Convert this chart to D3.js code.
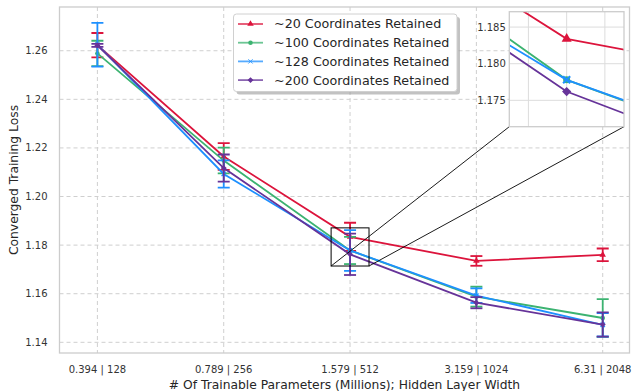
<!DOCTYPE html>
<meta charset="utf-8" />
<title>Converged Training Loss</title>
<script src="https://d3js.org/d3.v7.min.js"></script>

<style>
  body {
    margin: 0;
    padding: 0;
    background: #fff;
    font-family: "DejaVu Sans", sans-serif;
  }

  .grid line {
    stroke: #cfcfcf;
    stroke-width: 1;
    stroke-dasharray: 4, 3;
  }

  .tick-label {
    font-size: 10px;
    fill: #333;
  }

  .axis-label {
    font-size: 12.3px;
    fill: #262626;
  }

  .series-line {
    fill: none;
    stroke-width: 1.8;
  }
</style>

<body>
  <div id="chart"></div>
</body>

<script>
  // x categories: params (millions) | hidden width
  const xLabels = ["0.394 | 128", "0.789 | 256", "1.579 | 512", "3.159 | 1024", "6.31 | 2048"];
  const yTicks = [1.14, 1.16, 1.18, 1.20, 1.22, 1.24, 1.26];
  const insetTicks = [1.175, 1.180, 1.185];

  const seriesNames = ["~20 Coordinates Retained", "~100 Coordinates Retained",
    "~128 Coordinates Retained", "~200 Coordinates Retained"];

  const loss20 = [1.2623, 1.2165, 1.1834, 1.1735, 1.1760];
  const err20 = [0.0050, 0.0055, 0.0058, 0.0020, 0.0026];
  const loss100 = [1.2589, 1.2148, 1.1778, 1.1588, 1.1500];
  const err100 = [0.0052, 0.0053, 0.0056, 0.0041, 0.0078];
  const loss128 = [1.2625, 1.2093, 1.1778, 1.1592, 1.1472];
  const err128 = [0.0090, 0.0056, 0.0084, 0.0030, 0.0048];
  const loss200 = [1.2622, 1.2117, 1.1762, 1.1563, 1.1473];
  const err200 = [0.0006, 0.0056, 0.0085, 0.0023, 0.0050];

  const colors = ["#dc143c", "#3cb371", "#1e90ff", "#663399"];
  const markers = ["triangle", "circle", "cross", "diamond"];

  const series = [
    { name: seriesNames[0], loss: loss20, err: err20 },
    { name: seriesNames[1], loss: loss100, err: err100 },
    { name: seriesNames[2], loss: loss128, err: err128 },
    { name: seriesNames[3], loss: loss200, err: err200 }
  ];
  series.forEach(function (s, i) { s.color = colors[i]; s.marker = markers[i]; });

  const W = 633, H = 391;
  const plot = { left: 59.5, right: 629.5, top: 7, bottom: 353 };

  const svg = d3.select("#chart").append("svg")
    .attr("width", W).attr("height", H);

  var x = d3.scaleLinear().domain([-0.3, 4.212]).range([plot.left, plot.right]);
  var y = d3.scaleLinear().domain([1.1356, 1.278]).range([plot.bottom, plot.top]);

  svg.append("clipPath").attr("id", "clip-main")
    .append("rect")
    .attr("x", plot.left).attr("y", plot.top)
    .attr("width", plot.right - plot.left).attr("height", plot.bottom - plot.top);

  // grid
  const grid = svg.append("g").attr("class", "grid");
  grid.selectAll(".gy").data(yTicks).enter().append("line")
    .attr("x1", plot.left).attr("x2", plot.right)
    .attr("y1", d => y(d)).attr("y2", d => y(d));
  grid.selectAll(".gx").data(xLabels).enter().append("line")
    .attr("x1", (d, i) => x(i)).attr("x2", (d, i) => x(i))
    .attr("y1", plot.top).attr("y2", plot.bottom);

  // frame
  svg.append("rect")
    .attr("x", plot.left).attr("y", plot.top)
    .attr("width", plot.right - plot.left).attr("height", plot.bottom - plot.top)
    .attr("fill", "none").attr("stroke", "#cccccc").attr("stroke-width", 1.3);

  // tick labels
  svg.selectAll(".ytl").data(yTicks).enter().append("text")
    .attr("class", "tick-label")
    .attr("x", plot.left - 12).attr("y", d => y(d))
    .attr("dy", "0.35em").attr("text-anchor", "end")
    .text(d => d3.format(".2f")(d));
  svg.selectAll(".xtl").data(xLabels).enter().append("text")
    .attr("class", "tick-label")
    .attr("x", (d, i) => x(i)).attr("y", 373)
    .attr("text-anchor", "middle")
    .text(d => d);

  svg.append("text").attr("class", "axis-label")
    .attr("x", (plot.left + plot.right) / 2).attr("y", 388.5)
    .attr("text-anchor", "middle")
    .text("# Of Trainable Parameters (Millions); Hidden Layer Width");
  svg.append("text").attr("class", "axis-label")
    .attr("transform", "translate(18," + ((plot.top + plot.bottom) / 2) + ") rotate(-90)")
    .attr("text-anchor", "middle")
    .text("Converged Training Loss");

  function markerPath(type, size) {
    if (type === "triangle") return d3.symbol(d3.symbolTriangle, size * size * 0.9)();
    if (type === "circle") return d3.symbol(d3.symbolCircle, size * size * 0.8)();
    if (type === "diamond") return d3.symbol(d3.symbolDiamond2, size * size * 1.1)();
    return d3.symbol(d3.symbolTimes, size * size * 0.7)();
  }

  function drawSeries(g, xs, ys, msize, lw, caps) {
    series.forEach(function (s) {
      var line = d3.line()
        .x(function (d, i) { return xs(i); })
        .y(function (d) { return ys(d); });

      g.append("path")
        .datum(s.loss)
        .attr("class", "series-line")
        .attr("stroke", s.color)
        .attr("stroke-width", lw)
        .attr("d", line);

      if (caps) {
        var eb = g.append("g").attr("stroke", s.color).attr("stroke-width", 1.8);
        s.loss.forEach(function (v, i) {
          var cx = xs(i), t = ys(v + s.err[i]), b = ys(v - s.err[i]);
          eb.append("line").attr("x1", cx).attr("x2", cx).attr("y1", t).attr("y2", b);
          eb.append("line").attr("x1", cx - 6).attr("x2", cx + 6).attr("y1", t).attr("y2", t);
          eb.append("line").attr("x1", cx - 6).attr("x2", cx + 6).attr("y1", b).attr("y2", b);
        });
      }

      g.selectAll(null)
        .data(s.loss)
        .enter()
        .append("path")
        .attr("d", markerPath(s.marker, msize))
        .attr("transform", function (d, i) { return "translate(" + xs(i) + "," + ys(d) + ")"; })
        .attr("fill", s.color)
        .attr("stroke", s.marker === "cross" ? s.color : "none")
        .attr("stroke-width", s.marker === "cross" ? msize * 0.3 : 0.8);
    });
  }

  const main = svg.append("g").attr("clip-path", "url(#clip-main)");
  drawSeries(main, x, y, 4.5, 1.8, true);

  // zoom box on the 1.579 | 512 point
  const zx0 = 1.85, zx1 = 2.15, zy0 = 1.1714, zy1 = 1.1871;
  svg.append("rect")
    .attr("x", x(zx0)).attr("y", y(zy1))
    .attr("width", x(zx1) - x(zx0)).attr("height", y(zy0) - y(zy1))
    .attr("fill", "none").attr("stroke", "#000").attr("stroke-width", 1);

  // inset
  const ins = { left: 509.3, right: 624, top: 11.7, bottom: 126.7 };
  var xi = d3.scaleLinear().domain([zx0, zx1]).range([ins.left, ins.right]);
  var yi = d3.scaleLinear().domain([zy0, zy1]).range([ins.bottom, ins.top]);

  // connectors (lower-left and lower-right corners)
  svg.append("line")
    .attr("x1", x(zx0)).attr("y1", y(zy0)).attr("x2", ins.left).attr("y2", ins.bottom)
    .attr("stroke", "#000").attr("stroke-width", 0.9);
  svg.append("line")
    .attr("x1", x(zx1)).attr("y1", y(zy0)).attr("x2", ins.right).attr("y2", ins.bottom)
    .attr("stroke", "#000").attr("stroke-width", 0.9);

  svg.append("clipPath").attr("id", "clip-inset")
    .append("rect")
    .attr("x", ins.left).attr("y", ins.top)
    .attr("width", ins.right - ins.left).attr("height", ins.bottom - ins.top);

  svg.append("rect")
    .attr("x", ins.left).attr("y", ins.top)
    .attr("width", ins.right - ins.left).attr("height", ins.bottom - ins.top)
    .attr("fill", "#fff");

  const ig = svg.append("g");
  ig.selectAll(".igy").data(insetTicks).enter().append("line")
    .attr("x1", ins.left).attr("x2", ins.right)
    .attr("y1", d => yi(d)).attr("y2", d => yi(d))
    .attr("stroke", "#dcdcdc").attr("stroke-width", 1);
  ig.selectAll(".igx").data([1.9, 2.0, 2.1]).enter().append("line")
    .attr("x1", d => xi(d)).attr("x2", d => xi(d))
    .attr("y1", ins.top).attr("y2", ins.bottom)
    .attr("stroke", "#dcdcdc").attr("stroke-width", 1);

  const insetPlot = svg.append("g").attr("clip-path", "url(#clip-inset)");
  drawSeries(insetPlot, xi, yi, 7, 2, false);

  svg.append("rect")
    .attr("x", ins.left).attr("y", ins.top)
    .attr("width", ins.right - ins.left).attr("height", ins.bottom - ins.top)
    .attr("fill", "none").attr("stroke", "#cccccc").attr("stroke-width", 1.3);

  svg.selectAll(".itl").data(insetTicks).enter().append("text")
    .attr("class", "tick-label")
    .attr("x", ins.left - 3.5).attr("y", d => yi(d))
    .attr("dy", "0.35em").attr("text-anchor", "end")
    .text(d => d3.format(".3f")(d));

  // legend
  const lg = { x: 233.5, y: 14, w: 223.5, h: 77.5 };
  svg.append("rect")
    .attr("x", lg.x + 3).attr("y", lg.y + 3)
    .attr("width", lg.w).attr("height", lg.h).attr("rx", 3)
    .attr("fill", "#999").attr("opacity", 0.6);
  svg.append("rect")
    .attr("x", lg.x).attr("y", lg.y)
    .attr("width", lg.w).attr("height", lg.h).attr("rx", 3)
    .attr("fill", "#fff").attr("stroke", "#d0d0d0").attr("stroke-width", 1);

  const legendItems = svg.selectAll(".legend-item").data(series).enter().append("g")
    .attr("transform", (d, i) => "translate(" + lg.x + "," + (24 + i * 18.7) + ")");
  legendItems.append("line")
    .attr("x1", 4.5).attr("x2", 29.5).attr("y1", 0).attr("y2", 0)
    .attr("stroke", d => d.color).attr("stroke-width", 1.8).attr("opacity", 0.75);
  legendItems.append("path")
    .attr("d", d => markerPath(d.marker, 4.5))
    .attr("transform", "translate(17,0)")
    .attr("fill", d => d.color)
    .attr("stroke", d => d.marker === "cross" ? d.color : "none")
    .attr("stroke-width", 0.8);
  legendItems.append("text")
    .attr("x", 40.5).attr("y", 0).attr("dy", "0.35em")
    .style("font-size", "12.7px").style("fill", "#262626")
    .text(d => d.name);
</script>
